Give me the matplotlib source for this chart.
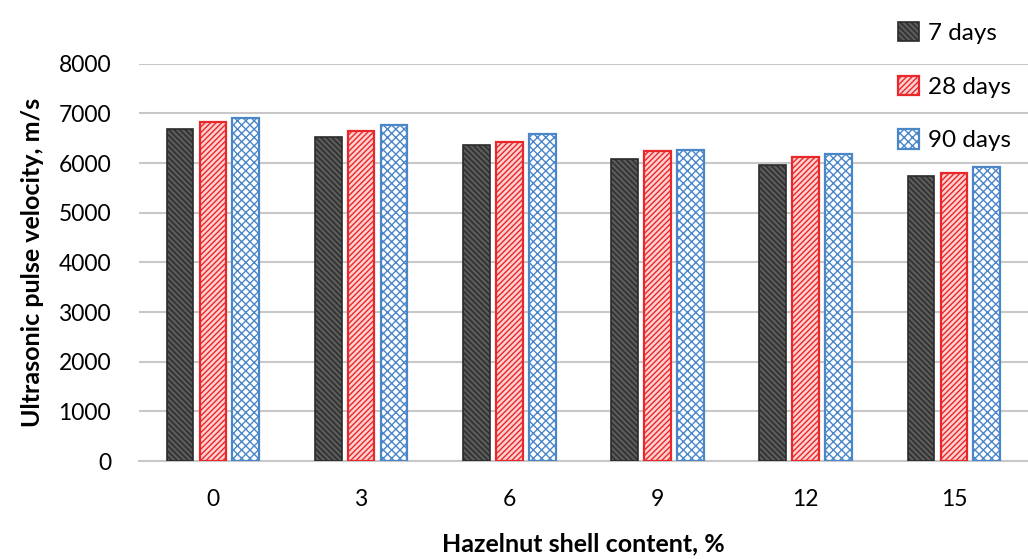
import matplotlib.pyplot as plt
import numpy as np

plt.rcParams['font.family'] = ['Lato', 'DejaVu Sans']
plt.rcParams['hatch.linewidth'] = 1.0

# données
teneur = ['0', '3', '6', '9', '12', '15']
jours_7 = [6690, 6520, 6360, 6090, 5960, 5750]
jours_28 = [6835, 6655, 6430, 6235, 6115, 5805]
jours_90 = [6905, 6775, 6585, 6270, 6185, 5920]

fig = plt.figure(figsize=(10.28, 5.59), dpi=100)
ax = fig.add_axes([0.135, 0.175, 0.865, 0.711])

x = np.arange(len(teneur))
w = 0.18
d = 0.222

ax.bar(x - d, jours_7, w, facecolor='#5a5a5a', edgecolor='#2b2b2b', hatch='\\\\\\\\\\\\', linewidth=1.2, label='7 days', zorder=3)
ax.bar(x, jours_28, w, facecolor='#ffd0d0', edgecolor='#e8282b', hatch='//////', linewidth=1.6, label='28 days', zorder=3)
ax.bar(x + d, jours_90, w, facecolor='white', edgecolor='#4a86c8', hatch='xxxx', linewidth=1.6, label='90 days', zorder=3)

ax.set_ylim(0, 8000)
ax.set_xlim(-0.5, len(teneur) - 0.5)
ax.set_yticks(range(0, 8001, 1000))
ax.set_xticks(x)
ax.set_xticklabels(teneur)
ax.tick_params(axis='both', length=0, labelsize=16.5, colors='black')
ax.tick_params(axis='x', pad=20)
ax.tick_params(axis='y', pad=20)
ax.grid(axis='y', color='#c8c8c8', linewidth=1.5, zorder=0)
for s in ['top', 'right', 'left']:
    ax.spines[s].set_visible(False)
ax.spines['bottom'].set_color('#c8c8c8')
ax.spines['bottom'].set_linewidth(1.5)

ax.set_ylabel('Ultrasonic pulse velocity, m/s', fontsize=18, fontweight='bold', labelpad=10)
ax.set_xlabel('Hazelnut shell content, %', fontsize=18, fontweight='bold', labelpad=16)

leg = fig.legend(loc='upper right', bbox_to_anchor=(1.005, 1.0), frameon=False, fontsize=17.5,
                 handlelength=0.85, handleheight=0.85, handletextpad=0.4, labelspacing=1.3)

fig.savefig('out.png', dpi=100)
